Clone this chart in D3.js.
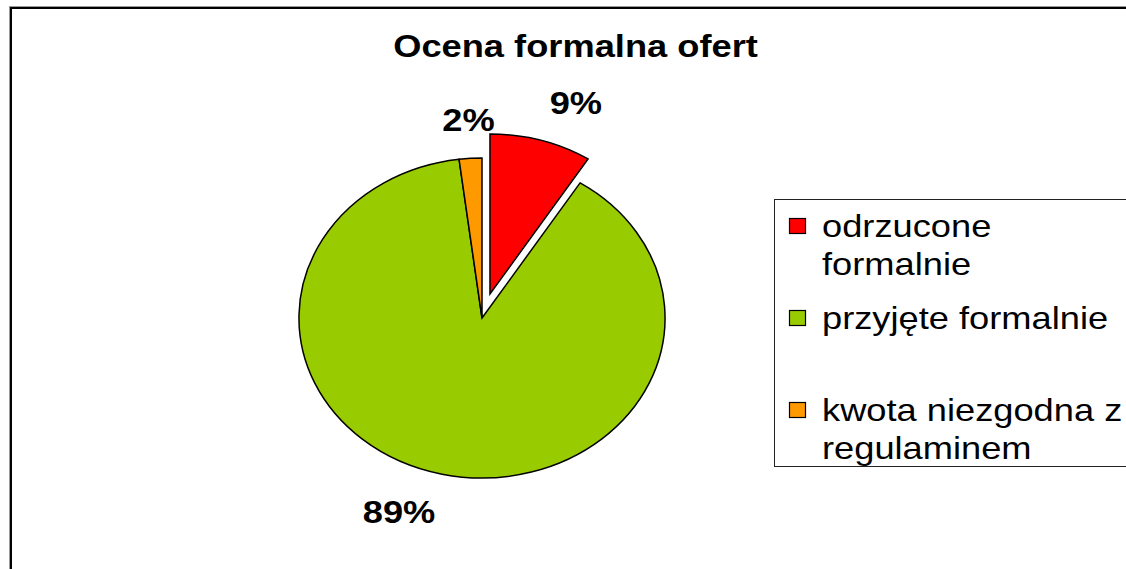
<!DOCTYPE html>
<html>
<head>
<meta charset="utf-8">
<script src="https://cdn.jsdelivr.net/npm/d3@7"></script>
<style>
  body { margin: 0; background: #fff; }
  text { font-family: "Liberation Sans", Arial, sans-serif; }
</style>
</head>
<body>
<div id="chart"></div>
<script>
const svgWidth = 1126
const svgHeight = 569

// chart data
const title = "Ocena formalna ofert"
const categories = ["odrzucone formalnie", "przyjęte formalnie", "kwota niezgodna z regulaminem"]
const values = [9, 89, 2]
const pctLabels = ["9%", "89%", "2%"]
const legendLines = [["odrzucone", "formalnie"], ["przyjęte formalnie"], ["kwota niezgodna z", "regulaminem"]]
const colors = ["#ff0000", "#99cc00", "#ff9900"]
const exploded = [true, false, false]

// the original picture is stretched horizontally
const sx = 1.144
const radius = 160
const cx = 482
const cy = 318
const explodeDist = 25
const labelRadius = 187
const fontSize = 31.7

let svg = d3
  .select("#chart")
  .append("svg")
  .attr("width", svgWidth)
  .attr("height", svgHeight)

// outer frame (runs off the right and bottom edge)
svg.append("rect")
  .attr("x", 9.5).attr("y", 6.5)
  .attr("width", 1200).attr("height", 700)
  .attr("fill", "none").attr("stroke", "#999").attr("stroke-width", 1)
svg.append("rect")
  .attr("x", 11).attr("y", 8)
  .attr("width", 1200).attr("height", 700)
  .attr("fill", "none").attr("stroke", "#000").attr("stroke-width", 2)

// title
svg.append("text")
  .attr("transform", `translate(575.5, 57) scale(${sx}, 1)`)
  .attr("text-anchor", "middle")
  .attr("font-size", fontSize)
  .attr("font-weight", "bold")
  .text(title)

let pie = d3.pie().sort(null).value(d => d)
let arc = d3.arc().innerRadius(0).outerRadius(radius)
let arcs = pie(values)

let pieGroup = svg.append("g")
  .attr("transform", `translate(${cx}, ${cy}) scale(${sx}, 1)`)

function offsetOf(d, i) {
  if (!exploded[i]) return [0, 0]
  let mid = (d.startAngle + d.endAngle) / 2
  return [Math.sin(mid) * explodeDist, -Math.cos(mid) * explodeDist]
}

pieGroup.selectAll("path")
  .data(arcs)
  .enter()
  .append("path")
  .attr("d", arc)
  .attr("transform", (d, i) => `translate(${offsetOf(d, i)})`)
  .attr("fill", (d, i) => colors[i])
  .attr("stroke", "#000")
  .attr("stroke-width", 1.5)
  .attr("vector-effect", "non-scaling-stroke")
  .attr("stroke-linejoin", "miter")

// percentage labels, outside end
arcs.forEach((d, i) => {
  let mid = (d.startAngle + d.endAngle) / 2
  let off = offsetOf(d, i)
  let s = Math.sin(mid)
  let c = -Math.cos(mid)
  let px = cx + (off[0] + s * labelRadius) * sx
  let py = cy + off[1] + c * labelRadius
  let anchor = s > 0.1 ? "start" : s < -0.1 ? "end" : "middle"
  svg.append("text")
    .attr("transform", `translate(${px}, ${py}) scale(${sx}, 1)`)
    .attr("text-anchor", anchor)
    .attr("dy", c > 0 ? "0.72em" : 0)
    .attr("font-size", fontSize)
    .attr("font-weight", "bold")
    .text(pctLabels[i])
})

// legend
const legendX = 774.5
const legendY = 199.5
const legendH = 267
const firstBaseline = 237
const itemStep = 92
const lineHeight = 38

svg.append("rect")
  .attr("x", legendX).attr("y", legendY)
  .attr("width", 500).attr("height", legendH)
  .attr("fill", "#fff").attr("stroke", "#222").attr("stroke-width", 1)

let items = svg.selectAll(".legend-item")
  .data(categories)
  .enter()
  .append("g")
  .attr("class", "legend-item")
  .attr("transform", (d, i) => `translate(0, ${firstBaseline + i * itemStep})`)

items.append("rect")
  .attr("x", 789.5).attr("y", -18.5)
  .attr("width", 16).attr("height", 15)
  .attr("fill", (d, i) => colors[i])
  .attr("stroke", "#000").attr("stroke-width", 1.2)

items.each(function (d, i) {
  let t = d3.select(this)
  legendLines[i].forEach((line, j) => {
    t.append("text")
      .attr("transform", `translate(822, ${j * lineHeight}) scale(${sx}, 1)`)
      .attr("font-size", fontSize)
      .text(line)
  })
})
</script>
</body>
</html>
